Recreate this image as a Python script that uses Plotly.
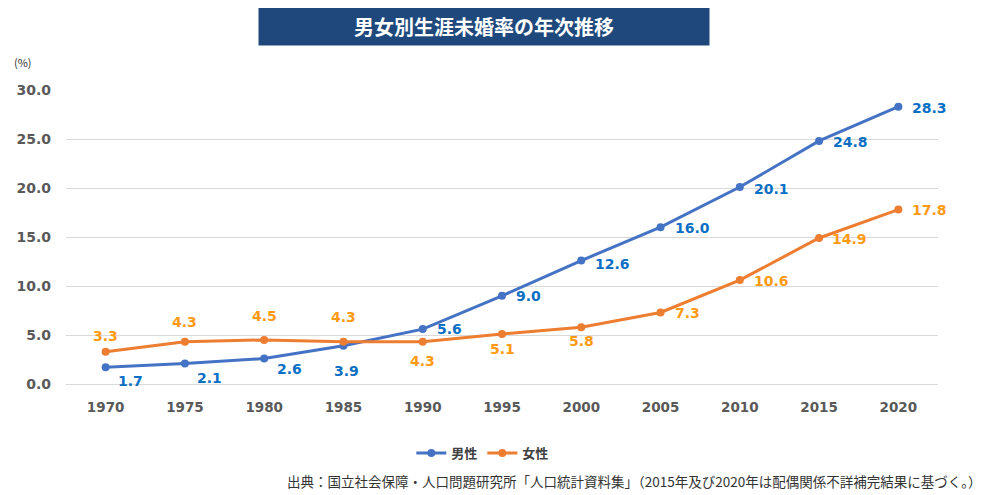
import plotly.graph_objects as go

# データ（国立社会保障・人口問題研究所）
years = ['1970', '1975', '1980', '1985', '1990', '1995', '2000', '2005', '2010', '2015', '2020']
male = [1.7, 2.1, 2.6, 3.9, 5.6, 9.0, 12.6, 16.0, 20.1, 24.8, 28.3]
female = [3.3, 4.3, 4.5, 4.3, 4.3, 5.1, 5.8, 7.3, 10.6, 14.9, 17.8]

FONT = 'Noto Sans CJK JP'
NUM_FONT = 'DejaVu Sans'
male_color = '#4472C4'
female_color = '#ED7D31'
male_label = '#0B6FC4'
female_label = '#FF9A12'

# ラベル位置 (xshift, yshift, xanchor)
male_pos = [(10, -14, 'left'), (10, -15, 'left'), (11, -10, 'left'), (3, -25, 'center'),
            (12, 0, 'left'), (12, 0, 'left'), (12, -3, 'left'), (12, -1, 'left'),
            (12, -2, 'left'), (12, -1, 'left'), (12, -1, 'left')]
female_pos = [(0, 16, 'center'), (0, 20, 'center'), (0, 24, 'center'), (0, 25, 'center'),
              (0, -19, 'center'), (0, -15, 'center'), (0, -14, 'center'), (12, -1, 'left'),
              (12, -1, 'left'), (11, -1, 'left'), (12, 0, 'left')]

fig = go.Figure()
fig.add_trace(go.Scatter(x=years, y=male, name='<b>男性</b>', mode='lines+markers',
                         line=dict(color=male_color, width=3),
                         marker=dict(size=8, color=male_color)))
fig.add_trace(go.Scatter(x=years, y=female, name='<b>女性</b>', mode='lines+markers',
                         line=dict(color=female_color, width=3),
                         marker=dict(size=8, color=female_color)))

annotations = []
for vals, pos, col in [(male, male_pos, male_label), (female, female_pos, female_label)]:
    for i, (v, (dx, dy, anc)) in enumerate(zip(vals, pos)):
        annotations.append(dict(x=i, y=v, text=f'<b>{v:.1f}</b>', showarrow=False,
                                xshift=dx, yshift=dy, xanchor=anc, yanchor='middle',
                                font=dict(family=NUM_FONT, size=14, color=col)))

# タイトル
annotations.append(dict(xref='paper', yref='paper', x=0.479, y=1.218,
                        text='<b>男女別生涯未婚率の年次推移</b>', showarrow=False,
                        xanchor='center', yanchor='middle', width=448, height=36,
                        bgcolor='#1F497D', font=dict(family=FONT, size=20, color='white')))
annotations.append(dict(xref='paper', yref='paper', x=-0.062, y=1.095, text='(%)',
                        showarrow=False, xanchor='left', yanchor='middle',
                        font=dict(family=FONT, size=11, color='#333333')))
annotations.append(dict(xref='paper', yref='paper', x=1.052, y=-0.33,
                        text='出典：国立社会保障・人口問題研究所「人口統計資料集」（2015年及び2020年は配偶関係不詳補完結果に基づく。）',
                        showarrow=False, xanchor='right', yanchor='middle',
                        font=dict(family=FONT, size=13.5, color='#333333')))

# ページ余白(8px)を差し引いた位置
fig.update_layout(
    width=987, height=495,
    margin=dict(l=58, r=57, t=82, b=119, autoexpand=False),
    paper_bgcolor='white', plot_bgcolor='white',
    font=dict(family=FONT, color='#595959'),
    showlegend=True,
    legend=dict(orientation='h', x=0.478, xanchor='center', y=-0.235, yanchor='middle',
                font=dict(family=FONT, size=13, color='#404040'), itemwidth=30),
    annotations=annotations,
)
fig.update_xaxes(type='category', range=[-0.5, 10.5], showgrid=False, showline=True,
                 linecolor='#D9D9D9', ticks='', ticklabelstandoff=11,
                 tickfont=dict(family=NUM_FONT, size=13.5, color='#595959'),
                 tickprefix='<b>', ticksuffix='</b>')
fig.update_yaxes(range=[0, 30], dtick=5, tickformat='.1f', showgrid=True, gridcolor='#D9D9D9',
                 zeroline=True, zerolinecolor='#D9D9D9', ticks='', ticklabelstandoff=14,
                 tickfont=dict(family=NUM_FONT, size=14, color='#595959'),
                 tickprefix='<b>', ticksuffix='</b>')

fig.write_html('out.html')
